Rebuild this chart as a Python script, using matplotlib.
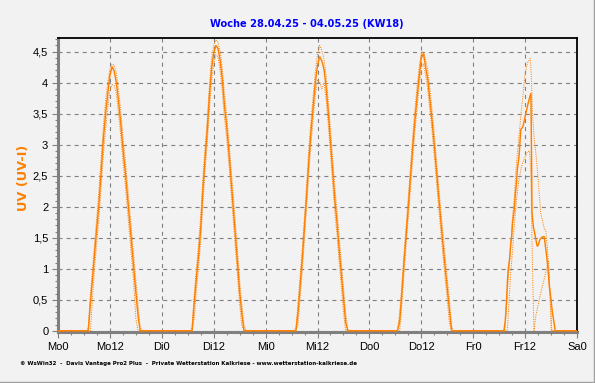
import matplotlib
matplotlib.use("Agg")
import matplotlib.pyplot as plt
from matplotlib.ticker import MultipleLocator, FixedLocator
from matplotlib.lines import Line2D

plt.rcParams['lines.scale_dashes'] = False
plt.rcParams['font.family'] = ['Liberation Sans', 'DejaVu Sans']

# ---------------- data ----------------
title = "Woche 28.04.25 - 04.05.25 (KW18)"
ylabel = "UV (UV-I)"
footer = "\u00a9 WsWin32  -  Davis Vantage Pro2 Plus  -  Private Wetterstation Kalkriese - www.wetterstation-kalkriese.de"
x_tick_labels = ["Mo0", "Mo12", "Di0", "Di12", "Mi0", "Mi12", "Do0", "Do12", "Fr0", "Fr12", "Sa0"]
y_tick_labels = ["0", "0,5", "1", "1,5", "2", "2,5", "3", "3,5", "4", "4,5"]

# hour of day for Mo..Do
hours = [6.5, 7.0, 7.5, 8.0, 8.5, 9.0, 9.5, 10.0, 10.5, 11.0, 11.5, 12.0, 12.5, 13.0,
         13.5, 14.0, 14.5, 15.0, 15.5, 16.0, 16.5, 17.0, 17.5, 18.0, 18.5, 19.0, 19.5]

mo_uv  = [0, 0, 0.45, 0.85, 1.28, 1.68, 2.08, 2.6, 3.1, 3.5, 3.82, 4.12, 4.26, 4.18, 4.0, 3.7, 3.35, 2.95, 2.6, 2.22, 1.82, 1.4, 1.0, 0.62, 0.25, 0, 0]
mo_max = [0, 0.05, 0.6, 1.0, 1.45, 1.85, 2.3, 2.8, 3.3, 3.7, 4.0, 4.22, 4.3, 4.28, 4.15, 3.88, 3.55, 3.15, 2.8, 2.42, 2.02, 1.62, 1.2, 0.82, 0.42, 0.05, 0]
mo_min = [0, 0, 0, 0.55, 1.05, 1.45, 1.85, 2.35, 2.85, 3.25, 3.6, 3.88, 3.97, 3.95, 3.82, 3.5, 3.15, 2.75, 2.4, 2.0, 1.6, 1.18, 0.78, 0.2, 0, 0, 0]

di_uv  = [0, 0, 0.45, 0.85, 1.22, 1.65, 2.28, 2.78, 3.22, 3.78, 4.22, 4.48, 4.6, 4.55, 4.35, 4.05, 3.62, 3.3, 2.9, 2.45, 2.0, 1.55, 1.1, 0.62, 0.28, 0, 0]
di_max = [0, 0.05, 0.6, 1.0, 1.4, 1.85, 2.45, 2.95, 3.4, 3.95, 4.38, 4.6, 4.69, 4.65, 4.5, 4.22, 3.8, 3.48, 3.08, 2.65, 2.2, 1.75, 1.3, 0.82, 0.42, 0.1, 0]
di_min = [0, 0, 0.2, 0.65, 1.02, 1.45, 2.05, 2.58, 3.02, 3.55, 4.02, 4.3, 4.45, 4.42, 4.18, 3.85, 3.42, 3.1, 2.7, 2.25, 1.8, 1.35, 0.9, 0.42, 0.08, 0, 0]

mi_uv  = [0, 0, 0.3, 0.75, 1.18, 1.68, 2.2, 2.75, 3.22, 3.62, 4.0, 4.28, 4.42, 4.35, 4.22, 3.92, 3.52, 3.05, 2.58, 2.12, 1.75, 1.32, 0.92, 0.5, 0.14, 0, 0]
mi_max = [0, 0.02, 0.45, 0.9, 1.35, 1.85, 2.38, 2.92, 3.4, 3.8, 4.18, 4.45, 4.6, 4.52, 4.38, 4.1, 3.7, 3.25, 2.78, 2.32, 1.95, 1.52, 1.1, 0.7, 0.3, 0.02, 0]
mi_min = [0, 0, 0.1, 0.55, 0.98, 1.48, 2.0, 2.55, 3.02, 3.42, 3.8, 4.05, 4.0, 3.9, 4.0, 3.72, 3.32, 2.85, 2.38, 1.92, 1.55, 1.12, 0.72, 0.3, 0, 0, 0]

do_uv  = [0, 0.15, 0.6, 1.1, 1.55, 2.0, 2.48, 2.95, 3.38, 3.75, 4.1, 4.4, 4.47, 4.25, 4.05, 3.72, 3.38, 3.0, 2.58, 2.18, 1.78, 1.4, 1.03, 0.68, 0.34, 0, 0]
do_max = [0, 0.3, 0.75, 1.25, 1.7, 2.18, 2.65, 3.12, 3.55, 3.92, 4.25, 4.48, 4.5, 4.38, 4.2, 3.9, 3.55, 3.18, 2.75, 2.35, 1.95, 1.58, 1.2, 0.85, 0.5, 0.08, 0]
do_min = [0, 0, 0.42, 0.92, 1.38, 1.82, 2.3, 2.78, 3.2, 3.58, 3.95, 4.25, 4.3, 4.12, 3.88, 3.55, 3.2, 2.82, 2.4, 2.0, 1.6, 1.22, 0.85, 0.5, 0.12, 0, 0]

fr_uv_t = [6.5, 7.1, 7.4, 7.7, 7.9, 8.1, 8.4, 8.7, 8.9, 9.1, 9.5, 9.7, 10.0, 10.2, 10.6, 10.8, 11.0, 11.5, 12.0, 12.5,
           13.0, 13.35, 13.45, 13.6, 13.9, 14.2, 14.5, 14.8, 15.1, 15.4, 15.9, 16.4, 16.6, 17.0, 17.3, 17.6, 18.0, 18.3, 18.7, 18.95, 19.5]
fr_uv   = [0, 0, 0.15, 0.46, 0.78, 0.99, 1.15, 1.42, 1.52, 1.74, 1.95, 2.17, 2.38, 2.6, 2.81, 3.02, 3.24, 3.29, 3.45, 3.61,
           3.75, 3.83, 3.0, 1.9, 1.68, 1.58, 1.47, 1.36, 1.39, 1.47, 1.51, 1.52, 1.42, 1.2, 0.99, 0.72, 0.5, 0.3, 0.13, 0, 0]
fr_max_t = [6.5, 7.3, 7.6, 8.0, 8.4, 8.8, 9.1, 9.5, 9.8, 10.2, 10.8, 11.2, 11.6, 11.9, 12.5, 13.15, 13.3, 13.5, 13.7,
            14.1, 14.5, 14.9, 15.6, 16.4, 16.8, 17.2, 17.6, 18.0, 18.15, 19.5]
fr_max   = [0, 0, 0.3, 0.75, 1.1, 1.5, 1.85, 2.15, 2.5, 2.85, 3.3, 3.6, 3.85, 4.1, 4.31, 4.39, 4.3, 4.0, 3.5,
            3.1, 2.85, 2.55, 1.9, 1.66, 1.6, 1.3, 0.8, 0.3, 0, 0]
fr_min_t = [6.5, 7.9, 8.3, 8.7, 9.1, 9.5, 10.0, 10.5, 11.0, 11.5, 12.0, 12.5, 13.0, 13.3, 13.5, 13.75, 14.05,
            14.5, 15.1, 15.6, 16.4, 16.95, 17.4, 17.6, 17.8, 18.05, 19.5]
fr_min   = [0, 0, 0.5, 0.95, 1.3, 1.7, 2.1, 2.4, 2.6, 2.72, 2.8, 2.88, 2.9, 2.6, 1.8, 0.9, 0,
            0.25, 0.45, 0.61, 0.83, 0.99, 1.12, 0.9, 0.45, 0, 0]

# ---------------- assemble week ----------------
def week(parts):
    xs, ys = [0.0], [0.0]
    for day, (t, v) in enumerate(parts):
        xs += [day * 24 + h for h in t]
        ys += list(v)
    xs.append(120.0)
    ys.append(0.0)
    return xs, ys

uv_x, uv_y = week([(hours, mo_uv), (hours, di_uv), (hours, mi_uv), (hours, do_uv), (fr_uv_t, fr_uv)])
mx_x, mx_y = week([(hours, mo_max), (hours, di_max), (hours, mi_max), (hours, do_max), (fr_max_t, fr_max)])
mn_x, mn_y = week([(hours, mo_min), (hours, di_min), (hours, mi_min), (hours, do_min), (fr_min_t, fr_min)])

# ---------------- figure ----------------
W, H = 595, 383
bg = '#f2f2f2'
orange = '#ff8000'
grey = '#808080'

fig = plt.figure(figsize=(W / 100, H / 100), dpi=100, facecolor=bg)
ax = fig.add_axes([58 / W, (H - 332) / H, (577 - 58) / W, (332 - 38) / H])
ax.set_facecolor(bg)

ax.plot(mx_x, mx_y, color=orange, lw=0.7, linestyle=(0, (0.75, 0.9)), zorder=3)
ax.plot(mn_x, mn_y, color=orange, lw=0.7, linestyle=(0, (0.75, 0.9)), zorder=3)
ax.plot(uv_x, uv_y, color=orange, lw=1.05, zorder=4, solid_joinstyle='miter')

ax.set_xlim(0, 120)
ax.set_ylim(-0.02, 4.72)

ax.xaxis.set_major_locator(FixedLocator(list(range(0, 121, 12))))
ax.set_xticklabels(x_tick_labels)
ax.xaxis.set_minor_locator(MultipleLocator(3))
ax.yaxis.set_major_locator(FixedLocator([0.5 * i for i in range(len(y_tick_labels))]))
ax.set_yticklabels(y_tick_labels)
ax.yaxis.set_minor_locator(MultipleLocator(0.1))

ax.tick_params(axis='both', which='both', direction='out', color=grey, labelcolor='black', labelsize=8)
ax.tick_params(axis='both', which='major', length=4, width=0.8)
ax.tick_params(axis='both', which='minor', length=2.5, width=0.8)
ax.tick_params(axis='x', which='major', pad=3)
ax.tick_params(axis='y', which='major', pad=3)

ax.grid(True, which='major', color=grey, linestyle=(0, (2.9, 2.9)), linewidth=0.8, zorder=1)
ax.set_axisbelow(True)

for s in ('left', 'bottom'):
    ax.spines[s].set_color(grey)
    ax.spines[s].set_linewidth(2.2)
for s in ('top', 'right'):
    ax.spines[s].set_color('black')
    ax.spines[s].set_linewidth(1.3)

fig.text(307 / W, 1 - 24 / H, title, ha='center', va='center', color='#0000ff',
         fontsize=7.1, fontweight='bold', family=['DejaVu Sans'])
fig.text(24 / W, 1 - 178 / H, ylabel, ha='center', va='center', rotation=90, color=orange,
         fontsize=9.3, fontweight='bold', family=['DejaVu Sans'])
fig.text(20 / W, 1 - 364 / H, footer, ha='left', va='center', color='black',
         fontsize=4.0, fontweight='bold', family=['DejaVu Sans'])

# panel frame (right and bottom edges)
fig.add_artist(Line2D([593.5 / W, 593.5 / W], [0, 1], transform=fig.transFigure, color='#a0a0a0', lw=1.0))
fig.add_artist(Line2D([0, 1], [1 - 381.5 / H, 1 - 381.5 / H], transform=fig.transFigure, color='#a0a0a0', lw=1.0))

fig.savefig('out.png', dpi=100, facecolor=bg)
